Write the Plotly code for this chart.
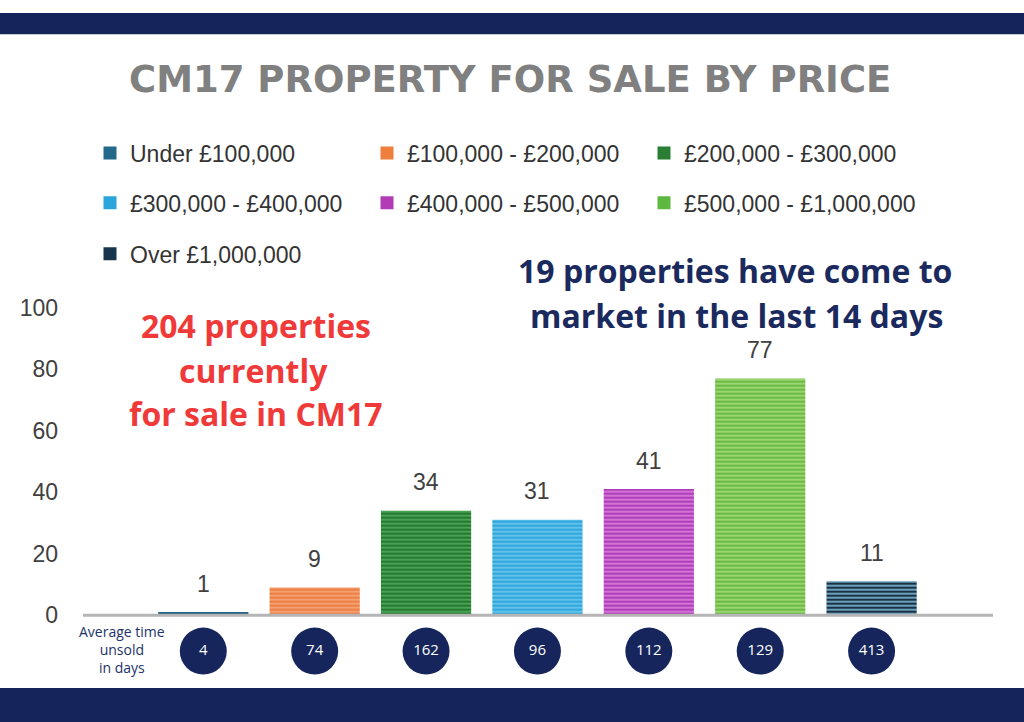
import plotly.graph_objects as go

# ---- data ----
categories = ["Under £100,000", "£100,000 - £200,000", "£200,000 - £300,000",
              "£300,000 - £400,000", "£400,000 - £500,000", "£500,000 - £1,000,000",
              "Over £1,000,000"]
counts = [1, 9, 34, 31, 41, 77, 11]
days_unsold = [4, 74, 162, 96, 112, 129, 413]
y_ticks = [0, 20, 40, 60, 80, 100]

bg_colors = ["#2a6f94", "#f4a070", "#45a352", "#5ec2ec", "#d373d8", "#98d66e", "#1a3148"]
fg_colors = ["#1b5272", "#e9773a", "#1f6e2a", "#2a9fd6", "#a631b0", "#62b23c", "#7fbfd8"]
key_colors = ["#24688c", "#ef7f3d", "#2a7f35", "#2aa6dc", "#b23cb5", "#5fb840", "#17364d"]
legend_rows = ["legend", "legend", "legend", "legend2", "legend2", "legend2", "legend3"]

W, H = 1024, 722
NAVY = "#15245a"

# vertical layout helper (page pixel -> figure pixel)
def fy(y):
    return y * 734 / 722 - 12

def px(x):
    return x / W

def py(y):
    return 1 - fy(y) / H

Y_ZERO = fy(615)
Y_HUNDRED = fy(307)
PX_PER_UNIT = (Y_ZERO - Y_HUNDRED) / 100
Y_MIN = -22

fig = go.Figure()

xs = list(range(len(categories)))
for i, (cat, v) in enumerate(zip(categories, counts)):
    fig.add_trace(go.Bar(
        x=[xs[i]], y=[v], name=cat, width=0.81,
        marker=dict(color=bg_colors[i], line=dict(width=0),
                    pattern=dict(shape="-", bgcolor=bg_colors[i], fgcolor=fg_colors[i],
                                 size=4, solidity=0.4, fillmode="replace")),
        showlegend=False, cliponaxis=False, hoverinfo="skip",
    ))
    # legend key (solid square)
    fig.add_trace(go.Scatter(
        x=[None], y=[None], name=cat, mode="markers",
        marker=dict(symbol="square", size=13, color=key_colors[i], line=dict(width=0)),
        legend=legend_rows[i], showlegend=True, hoverinfo="skip",
    ))

circle_y = -(fy(651) - Y_ZERO) / PX_PER_UNIT
fig.add_trace(go.Scatter(
    x=xs, y=[circle_y] * len(xs), mode="markers+text",
    marker=dict(size=47, color="#16265c", line=dict(width=0)),
    text=[str(d) for d in days_unsold], textposition="middle center",
    textfont=dict(family="Open Sans", size=15, color="white"),
    showlegend=False, cliponaxis=False, hoverinfo="skip",
))

annotations = []
for i, v in enumerate(counts):
    annotations.append(dict(x=xs[i], y=v, xref="x", yref="y", text=str(v), showarrow=False,
                            yanchor="middle", yshift=28.5,
                            font=dict(family="Liberation Sans", size=23, color="#404040")))

annotations.append(dict(x=px(510), y=py(78), xref="paper", yref="paper",
                        text="CM17 PROPERTY FOR SALE BY PRICE", showarrow=False,
                        xanchor="center", yanchor="middle",
                        font=dict(family="DejaVu Sans", size=37, color="#808080", weight="bold")))

for txt, x, y in [("204 properties", 256, 325), ("currently", 253, 370), ("for sale in CM17", 256, 413)]:
    annotations.append(dict(x=px(x), y=py(y), xref="paper", yref="paper", text=txt,
                            showarrow=False, xanchor="center", yanchor="middle",
                            font=dict(family="Open Sans", size=32, color="#f03a3a", weight="bold")))
for txt, x, y in [("19 properties have come to", 735, 270), ("market in the last 14 days", 736, 315)]:
    annotations.append(dict(x=px(x), y=py(y), xref="paper", yref="paper", text=txt,
                            showarrow=False, xanchor="center", yanchor="middle",
                            font=dict(family="Open Sans", size=32, color="#1b2a5e", weight="bold")))

annotations.append(dict(x=-0.73, y=circle_y, xref="x", yref="y",
                        text="Average time<br>unsold<br>in days", showarrow=False,
                        xanchor="center", yanchor="middle", align="center", yshift=2,
                        font=dict(family="Open Sans", size=14, color="#22336a")))

shapes = [
    dict(type="rect", xref="paper", yref="paper", x0=0, x1=1, y0=py(33), y1=1,
         fillcolor=NAVY, line=dict(width=0), layer="below"),
    dict(type="rect", xref="paper", yref="paper", x0=0, x1=1, y0=0, y1=py(688),
         fillcolor=NAVY, line=dict(width=0), layer="below"),
    dict(type="line", xref="paper", yref="y", x0=px(83), x1=px(993), y0=0, y1=0,
         line=dict(color="#b5b5b5", width=3), layer="above"),
]

legend_common = dict(orientation="h", xanchor="left", yanchor="middle", entrywidth=232,
                     bgcolor="rgba(0,0,0,0)", borderwidth=0, itemsizing="trace",
                     font=dict(family="Liberation Sans", size=23, color="#333333"),
                     itemclick=False, itemdoubleclick=False)

y_bottom_px = Y_ZERO - Y_MIN * PX_PER_UNIT

fig.update_layout(
    width=W, height=H, margin=dict(l=0, r=0, t=0, b=0),
    paper_bgcolor="white", plot_bgcolor="white",
    barmode="overlay", showlegend=True,
    xaxis=dict(domain=[px(83), px(993)], range=[-1.08, 7.09], showgrid=False, zeroline=False,
               showticklabels=False, ticks="", showline=False, fixedrange=True),
    yaxis=dict(domain=[1 - y_bottom_px / H, 1 - Y_HUNDRED / H], range=[Y_MIN, 100], tickvals=y_ticks,
               showgrid=False, zeroline=False, showline=False, ticks="", ticklabelstandoff=24,
               tickfont=dict(family="Liberation Sans", size=23, color="#404040"), fixedrange=True),
    legend=dict(x=px(90), y=py(152), **legend_common),
    legend2=dict(x=px(90), y=py(202), **legend_common),
    legend3=dict(x=px(90), y=py(253), **legend_common),
    annotations=annotations,
    shapes=shapes,
)

post = """
var d=document.getElementById('{plot_id}');
d.style.position='fixed';d.style.left='0px';d.style.top='0px';
var de=document.documentElement, b=document.body;
[de,b].forEach(function(e){e.style.margin='0';e.style.padding='0';e.style.height='722px';e.style.overflow='hidden';});
"""
fig.write_html("out.html", post_script=post, config={"displayModeBar": False})
